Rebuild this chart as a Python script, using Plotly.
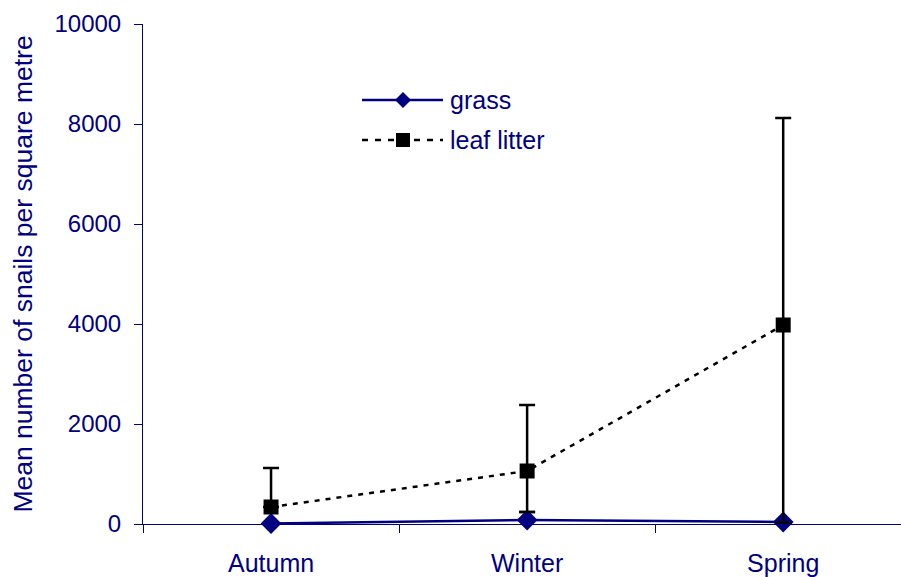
import plotly.graph_objects as go

seasons = ["Autumn", "Winter", "Spring"]
grass = [10, 80, 40]
grass_err_plus = [0, 160, 0]
grass_err_minus = [0, 160, 0]
leaf = [340, 1060, 3980]
leaf_err_plus = [780, 1320, 4140]
leaf_err_minus = [0, 820, 3950]
y_ticks = [0, 2000, 4000, 6000, 8000, 10000]
series_names = ["grass", "leaf litter"]

NAVY = "#000080"
FONT = "Liberation Sans, Arial, sans-serif"

W, H = 901, 577
L, R, T, B = 143, 0, 24, 53
PW, PH = W - L - R, H - T - B


def px(xp):
    return (xp - L) / PW


def py(yp):
    return (H - B - yp) / PH


fig = go.Figure()
fig.add_trace(go.Scatter(
    x=seasons, y=grass, name=series_names[0], mode="lines+markers",
    line=dict(color=NAVY, width=2.5),
    marker=dict(symbol="diamond", size=16, color=NAVY),
    error_y=dict(type="data", symmetric=False, array=grass_err_plus,
                 arrayminus=grass_err_minus, color="black", thickness=2.5, width=8),
    cliponaxis=False,
))
fig.add_trace(go.Scatter(
    x=seasons, y=leaf, name=series_names[1], mode="lines+markers",
    line=dict(color="black", width=2.5, dash="5px,6px"),
    marker=dict(symbol="square", size=15, color="black"),
    error_y=dict(type="data", symmetric=False, array=leaf_err_plus,
                 arrayminus=leaf_err_minus, color="black", thickness=2.5, width=8),
    cliponaxis=False,
))

# manual legend (long symbol lines like the reference)
shapes = []
annotations = []
lx0, lx1, lxm = 362, 443, 403
rows = [100, 140]
shapes.append(dict(type="line", xref="paper", yref="paper",
                   x0=px(lx0), x1=px(lx1), y0=py(rows[0]), y1=py(rows[0]),
                   line=dict(color=NAVY, width=2.5)))
d = 8
shapes.append(dict(type="path", xref="paper", yref="paper",
                   path=(f"M{px(lxm - d)},{py(rows[0])} L{px(lxm)},{py(rows[0] - d)} "
                         f"L{px(lxm + d)},{py(rows[0])} L{px(lxm)},{py(rows[0] + d)} Z"),
                   fillcolor=NAVY, line=dict(color=NAVY, width=0)))
shapes.append(dict(type="line", xref="paper", yref="paper",
                   x0=px(lx0), x1=px(lx1), y0=py(rows[1]), y1=py(rows[1]),
                   line=dict(color="black", width=2.5, dash="6px,7px")))
s = 7
shapes.append(dict(type="rect", xref="paper", yref="paper",
                   x0=px(lxm - s), x1=px(lxm + s), y0=py(rows[1] + s), y1=py(rows[1] - s),
                   fillcolor="black", line=dict(color="black", width=0)))
for name, yr in zip(series_names, rows):
    annotations.append(dict(text=name, xref="paper", yref="paper",
                            x=px(448), y=py(yr), xanchor="left", yanchor="middle",
                            showarrow=False,
                            font=dict(size=25, color=NAVY, family=FONT)))

fig.update_layout(
    width=W, height=H,
    margin=dict(l=L, r=R, t=T, b=B),
    paper_bgcolor="white", plot_bgcolor="white",
    font=dict(family=FONT, size=24, color=NAVY),
    showlegend=False,
    shapes=shapes,
    annotations=annotations,
    xaxis=dict(
        type="category", range=[-0.5, 2.46],
        tickson="boundaries", ticks="outside", ticklen=8, tickcolor=NAVY,
        showline=True, linecolor=NAVY, linewidth=1, showgrid=False,
        tickfont=dict(size=25, color=NAVY, family=FONT),
        ticklabelstandoff=17,
    ),
    yaxis=dict(
        range=[0, 10000], tickvals=y_ticks,
        ticktext=[str(v) for v in y_ticks],
        ticks="outside", ticklen=8, tickcolor=NAVY,
        showline=True, linecolor=NAVY, linewidth=1, showgrid=False,
        zeroline=False,
        tickfont=dict(size=24, color=NAVY, family=FONT),
        ticklabelstandoff=8,
        title=dict(text="Mean number of snails per square metre",
                   font=dict(size=26.5, color=NAVY, family=FONT), standoff=14),
    ),
)

fig.write_html("out.html")
